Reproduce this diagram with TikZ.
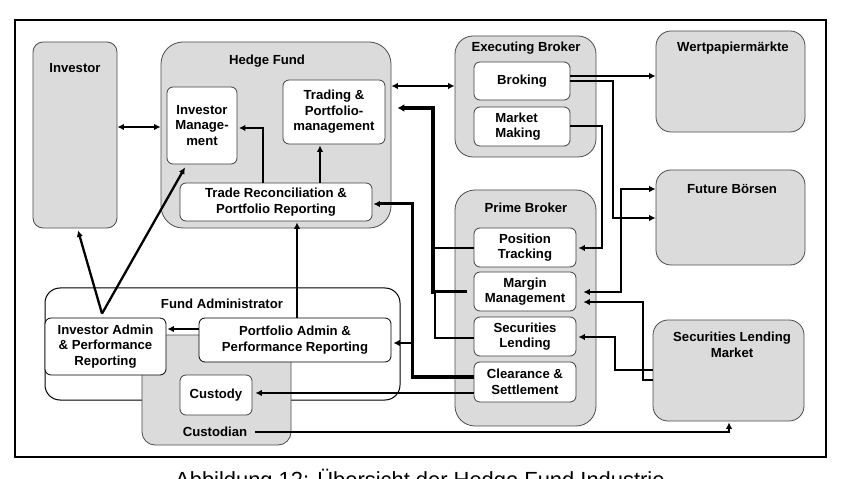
\documentclass[tikz,border=0pt]{standalone}
\usepackage{fontspec}
\setmainfont{Liberation Sans}
\usetikzlibrary{fit,arrows.meta}
\begin{document}
\begin{tikzpicture}[x=1bp,y=-1bp,
  gbox/.style={draw=black!70, fill=black!14, line width=0.8bp, rounded corners=#1, inner sep=0pt},
  gbox/.default=12bp,
  wbox/.style={draw=black!75, fill=white, line width=0.8bp, rounded corners=6bp, inner sep=0pt,
     align=center, font=\fontsize{13.2}{15.5}\selectfont\bfseries},
  ttl/.style={font=\fontsize{13.2}{15.5}\selectfont\bfseries, align=center, inner sep=0pt},
  tip/.style={-{Latex[length=6.5bp,width=6.5bp]}},
  dtip/.style={{Latex[length=6.5bp,width=6.5bp]}-{Latex[length=6.5bp,width=6.5bp]}},
  conn/.style={line width=2.3bp, tip},
  dconn/.style={line width=2.3bp, dtip},
  tconn/.style={line width=4.5bp, -{Latex[length=7bp,width=8bp]}},
  line/.style={line width=2.3bp}
]
\useasboundingbox (0,0) rectangle (845,479);
\fill[white] (0,0) rectangle (845,479);
\draw[line width=2bp] (14.5,20.5) rectangle (825.5,457);

% Investor
\node[gbox=10bp, fit={(33,42) (117,228)}] (inv) {};
\node[ttl] (invl) at (75,68) {Investor};

% Hedge Fund
\node[gbox=22bp, fit={(161,42) (391,228)}] (hf) {};
\node[ttl] (hfl) at (267,61) {Hedge Fund};
\node[wbox, fit={(167,87) (237,164)}] (im) {};
\node[ttl] (imt) at (im.center) {Investor\\Manage-\\ment};
\node[wbox, fit={(283,80) (385,144)}] (tp) {};
\node[ttl] (tpt) at (tp.center) {Trading \&\\Portfolio-\\management};
\node[wbox, fit={(180,183) (372,221)}] (tr) {};
\node[ttl] (trt) at (tr.center) {Trade Reconciliation \&\\Portfolio Reporting};

% Executing Broker
\node[gbox=18bp, fit={(455,36) (596,157)}] (eb) {};
\node[ttl] (ebl) at (526,48) {Executing Broker};
\node[wbox, fit={(474,62) (570,100)}] (brk) {};
\node[ttl] (brkt) at (brk.center) {Broking};
\node[wbox, fit={(474,107) (570,146)}] (mm) {};
\node[ttl, align=left] (mmt) at (518,126.5) {Market\\Making};

% Markets
\node[gbox=15bp, fit={(656,31) (805,132)}] (wp) {};
\node[ttl] (wpl) at (733,48) {Wertpapiermärkte};
\node[gbox=15bp, fit={(656,170) (805,265)}] (fb) {};
\node[ttl] (fbl) at (732,189) {Future Börsen};
\node[gbox=15bp, fit={(653,320) (804,421)}] (slm) {};
\node[ttl] (slml) at (732,345) {Securities Lending\\Market};

% Prime Broker
\node[gbox=20bp, fit={(455,190) (596,426)}] (pb) {};
\node[ttl] (pbl) at (526,208) {Prime Broker};
\node[wbox, fit={(474,228) (576,267)}] (pt) {};
\node[ttl] (ptt) at (pt.center) {Position\\Tracking};
\node[wbox, fit={(474,272) (576,311)}] (mg) {};
\node[ttl] (mgt) at (mg.center) {Margin\\Management};
\node[wbox, fit={(474,317) (576,356)}] (sl) {};
\node[ttl] (slt) at (sl.center) {Securities\\Lending};
\node[wbox, fit={(474,362) (576,402)}] (cs) {};
\node[ttl] (cst) at (cs.center) {Clearance \&\\Settlement};

% Fund Administrator and Custodian
\node[draw=black, fill=white, line width=1bp, rounded corners=15bp, inner sep=0pt, fit={(45,288) (400,400)}] (fa) {};
\node[ttl] (fal) at (222,304) {Fund Administrator};
\node[gbox=13bp, fit={(142,335) (291,445)}] (cu) {};
\node[ttl] (cul) at (215,432) {Custodian};
\node[wbox, fit={(180,375) (252,415)}] (cy) {};
\node[ttl] (cyt) at (cy.center) {Custody};
\node[wbox, draw=black, fit={(45,318) (166,375)}] (ia) {};
\node[ttl] (iat) at (ia.center) {Investor Admin\\\& Performance\\Reporting};
\node[wbox, draw=black, fit={(199,318) (391,362)}] (pa) {};
\node[ttl] (pat) at (pa.center) {Portfolio Admin \&\\Performance Reporting};

% Connectors
\draw[dconn] (inv.east |- 0,127) -- (hf.west |- 0,127);
\draw[conn] (tr.north -| 263,0) |- ([xshift=1.5bp]im.east |- 0,128);
\draw[conn] (tr.north -| 320,0) -- ([yshift=-1bp]tp.south -| 320,0);
\draw[dconn] (hf.east |- 0,86) -- (eb.west |- 0,86);

\path (ia.north -| 102,0) ++(0,-4) coordinate (iatop);
\draw[conn] (iatop) -- ([yshift=-2bp]inv.south -| 78,0);
\draw[conn] (iatop) -- ([yshift=-3bp]im.south -| 185,0);
\draw[conn] (pa.west |- 0,329) -- ([xshift=1bp]ia.east |- 0,329);
\draw[conn] (pa.north -| 297,0) -- ([yshift=-1bp]tr.south -| 297,0);

% Prime broker to trading
\draw[line] (pt.west |- 0,248) -- (433,248);
\draw[line] (sl.west |- 0,338) -| (435,292);
\draw[line width=3bp] ([xshift=-7bp]mg.west |- 0,292) -- (433,292);
\draw[tconn] (433,294) -- (433,108) -- ([xshift=12bp]tp.east |- 0,108);

% Clearance
\draw[line width=4bp] (cs.west |- 0,377) -- (410.5,377);
\draw[line width=3bp, tip] (412,378.5) -- (412,204) -- ([xshift=1bp]tr.east |- 0,204);
\draw[conn] (412,343) -- ([xshift=2bp]pa.east |- 0,343);
\draw[conn] (cs.west |- 0,393) -- ([xshift=3bp]cy.east |- 0,393);
\draw[conn] ([xshift=8bp]cul.east |- 0,432) -| ([yshift=-1bp]slm.south -| 729,0);

% Executing broker
\draw[line width=2.6bp, tip] (brk.east |- 0,76) -- (wp.west |- 0,76);
\draw[line width=2.6bp, tip] (brk.east |- 0,81) -| (613,218) -- (fb.west |- 0,218);
\draw[line width=2.6bp, tip] (mm.east |- 0,126) -| (602,248) -- ([xshift=2bp]pt.east |- 0,248);

% Markets to prime broker
\draw[dconn] ([xshift=7bp]mg.east |- 0,292) -| (621,189) -- (fb.west |- 0,189);
\draw[conn] (slm.west |- 0,380) -| (643,302) -- ([xshift=7bp]mg.east |- 0,302);
\draw[conn] (slm.west |- 0,370) -| (615,337) -- ([xshift=2bp]sl.east |- 0,337);

% Caption (cut off by the page edge)
\node[anchor=base west, inner sep=0pt, font=\fontsize{22}{26}\selectfont] (cap) at (175,487) {Abbildung 12: Übersicht der Hedge Fund Industrie};
\end{tikzpicture}
\end{document}
